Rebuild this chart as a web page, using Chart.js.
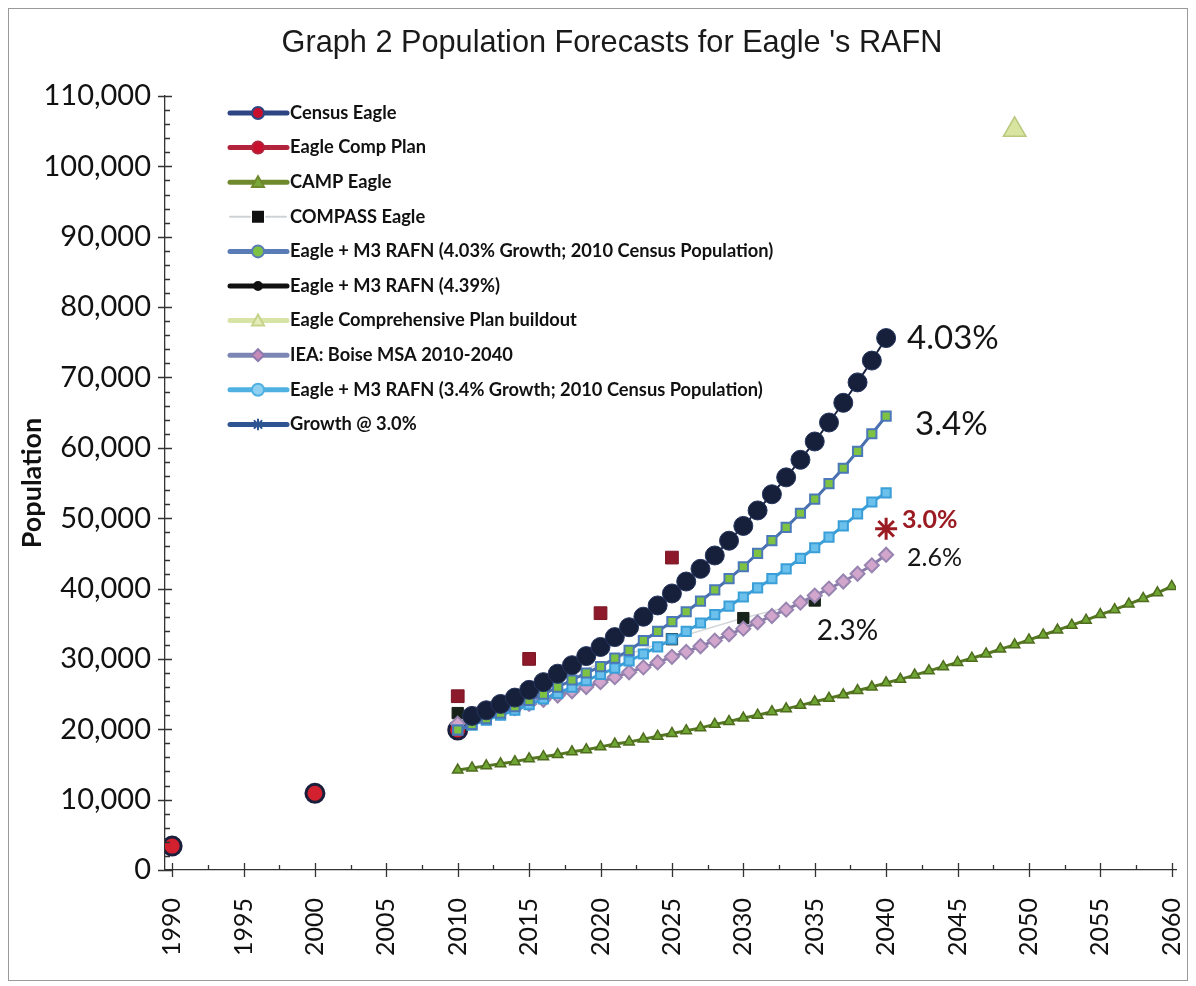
<!DOCTYPE html>
<html>
<head>
<meta charset="utf-8">
<script src="https://cdn.jsdelivr.net/npm/chart.js@4.4.0/dist/chart.umd.min.js"></script>
<style>
  html, body { margin: 0; padding: 0; background: #fff; }
  #wrap { width: 1196px; height: 986px; position: relative; }
</style>
</head>
<body>
<div id="wrap"><canvas id="chart"></canvas></div>
<script>
// values
const censusYears = [1990, 2000, 2010];
const censusEagle = [3400, 10900, 19900];

const compPlanYears = [2010, 2015, 2020, 2025];
const compPlan = [24700, 30000, 36500, 44400];

const compassYears = [2010, 2025, 2030, 2035];
const compassEagle = [22300, 32800, 35800, 38300];

const projYears = [2010, 2011, 2012, 2013, 2014, 2015, 2016, 2017, 2018, 2019, 2020,
  2021, 2022, 2023, 2024, 2025, 2026, 2027, 2028, 2029, 2030,
  2031, 2032, 2033, 2034, 2035, 2036, 2037, 2038, 2039, 2040];
const rafn439 = [null, 21900, 22700, 23600, 24500, 25600, 26700, 27900, 29100, 30400, 31700,
  33100, 34500, 36000, 37600, 39300, 41000, 42800, 44700, 46800, 48900,
  51100, 53400, 55800, 58300, 60900, 63600, 66400, 69300, 72400, 75600];
const rafn403 = [19900, 20700, 21500, 22300, 23200, 24100, 25000, 26000, 27000, 28000, 28900,
  30100, 31200, 32600, 33900, 35300, 36700, 38200, 39800, 41400, 43100,
  45000, 46800, 48700, 50700, 52700, 54900, 57100, 59500, 62000, 64500];
const rafn34 = [19900, 20600, 21300, 22000, 22700, 23500, 24300, 25100, 26000, 26900, 27800,
  28700, 29700, 30700, 31700, 32800, 33900, 35100, 36300, 37500, 38800,
  40100, 41400, 42800, 44300, 45800, 47300, 48900, 50600, 52300, 53600];
const ieaBoise = [20800, 21300, 21800, 22400, 23000, 23600, 24200, 24800, 25400, 26000, 26700,
  27400, 28100, 28800, 29500, 30300, 31000, 31800, 32600, 33500, 34300,
  35200, 36100, 37000, 38000, 39000, 40000, 41000, 42100, 43300, 44800];

const campYears = [2010, 2011, 2012, 2013, 2014, 2015, 2016, 2017, 2018, 2019, 2020,
  2021, 2022, 2023, 2024, 2025, 2026, 2027, 2028, 2029, 2030,
  2031, 2032, 2033, 2034, 2035, 2036, 2037, 2038, 2039, 2040,
  2041, 2042, 2043, 2044, 2045, 2046, 2047, 2048, 2049, 2050,
  2051, 2052, 2053, 2054, 2055, 2056, 2057, 2058, 2059, 2060];
const campEagle = [14200, 14500, 14800, 15100, 15400, 15800, 16100, 16400, 16800, 17100, 17500,
  17900, 18200, 18600, 19000, 19400, 19800, 20200, 20700, 21100, 21600,
  22000, 22500, 22900, 23400, 23900, 24400, 24900, 25500, 26000, 26600,
  27100, 27700, 28300, 28900, 29500, 30100, 30700, 31400, 32000, 32700,
  33400, 34100, 34800, 35500, 36300, 37000, 37800, 38600, 39400, 40300];

const buildoutYears = [2049];
const buildout = [105200];

const growth3Years = [2040];
const growth3 = [48500];

const xTickYears = [1990, 1995, 2000, 2005, 2010, 2015, 2020, 2025, 2030, 2035, 2040, 2045, 2050, 2055, 2060];

const pts = (xs, ys) => xs.map((x, i) => ({ x: x, y: ys[i] }));

const FONT = 'Lato, "Open Sans", sans-serif';
const TITLE = "Graph 2 Population Forecasts for Eagle 's RAFN";

// legend entries (drawn by hand, the original legend sits inside the plot)
const legendItems = [
  { text: 'Census Eagle', line: '#2e4584', lw: 5, shape: 'circle', fill: '#c8102e', stroke: '#2e4584', r: 6 },
  { text: 'Eagle Comp Plan', line: '#b1243c', lw: 5, shape: 'circle', fill: '#c8102e', stroke: '#b1243c', r: 6 },
  { text: 'CAMP Eagle', line: '#6e8a2c', lw: 5, shape: 'triangle', fill: '#79a83a', stroke: '#6e8a2c', r: 6 },
  { text: 'COMPASS Eagle', line: '#cfd3d6', lw: 2, shape: 'rect', fill: '#111', stroke: '#111', r: 5, dash: true },
  { text: 'Eagle + M3 RAFN (4.03% Growth; 2010 Census Population)', line: '#5a7cb6', lw: 5, shape: 'circle', fill: '#7dc242', stroke: '#5a7cb6', r: 6 },
  { text: 'Eagle + M3 RAFN (4.39%)', line: '#111', lw: 5, shape: 'circle', fill: '#111', stroke: '#111', r: 4 },
  { text: 'Eagle Comprehensive Plan buildout', line: '#d8e3a6', lw: 5, shape: 'triangle', fill: '#e3ebb8', stroke: '#c5d48a', r: 6 },
  { text: 'IEA: Boise MSA 2010-2040', line: '#7c86b4', lw: 5, shape: 'rectRot', fill: '#c88ab8', stroke: '#8a7aae', r: 6 },
  { text: 'Eagle + M3 RAFN (3.4% Growth; 2010 Census Population)', line: '#4fb0e2', lw: 5, shape: 'circle', fill: '#8fd0f0', stroke: '#4fb0e2', r: 6 },
  { text: 'Growth @ 3.0%', line: '#2e5591', lw: 5, shape: 'star', fill: '#2e5591', stroke: '#2e5591', r: 5 }
];

// percentage notes next to the line ends
const pctLabels = [
  { text: '4.03%', x: 2040, y: 75600, dx: 21, dy: 0, font: '33px ' + FONT, color: '#151515' },
  { text: '3.4%', x: 2040, y: 64500, dx: 29, dy: 8, font: '33px ' + FONT, color: '#151515' },
  { text: '3.0%', x: 2040, y: 48500, dx: 16, dy: -9, font: 'bold 25px ' + FONT, color: '#9b1b22' },
  { text: '2.6%', x: 2040, y: 44800, dx: 21, dy: 3, font: '25px ' + FONT, color: '#151515' },
  { text: '2.3%', x: 2035, y: 38300, dx: 2, dy: 30, font: '28px ' + FONT, color: '#151515' }
];

function drawMarker(ctx, shape, x, y, r) {
  ctx.beginPath();
  if (shape === 'circle') {
    ctx.arc(x, y, r, 0, Math.PI * 2);
  } else if (shape === 'rect') {
    ctx.rect(x - r, y - r, 2 * r, 2 * r);
  } else if (shape === 'triangle') {
    ctx.moveTo(x, y - r);
    ctx.lineTo(x + r, y + r * 0.8);
    ctx.lineTo(x - r, y + r * 0.8);
    ctx.closePath();
  } else if (shape === 'rectRot') {
    ctx.moveTo(x, y - r);
    ctx.lineTo(x + r, y);
    ctx.lineTo(x, y + r);
    ctx.lineTo(x - r, y);
    ctx.closePath();
  } else if (shape === 'star') {
    for (let a = 0; a < 4; a++) {
      const t = a * Math.PI / 4;
      ctx.moveTo(x - r * Math.cos(t), y - r * Math.sin(t));
      ctx.lineTo(x + r * Math.cos(t), y + r * Math.sin(t));
    }
    return 'lines';
  }
}

// white page, thin scan frame and the title (placed a bit right of centre like the original)
const framePlugin = {
  id: 'frame',
  beforeDraw(chart) {
    const ctx = chart.ctx;
    ctx.save();
    ctx.fillStyle = '#fff';
    ctx.fillRect(0, 0, chart.width, chart.height);
    ctx.strokeStyle = '#9a9a9a';
    ctx.lineWidth = 1;
    ctx.strokeRect(8.5, 8.5, chart.width - 17, chart.height - 14);
    ctx.fillStyle = '#1a1a1a';
    ctx.font = '30.7px "Liberation Sans", Arial, sans-serif';
    ctx.textAlign = 'center';
    ctx.textBaseline = 'middle';
    ctx.fillText(TITLE, 612, 44);
    ctx.restore();
  }
};

const tickPlugin = {
  id: 'tickMarks',
  afterDraw(chart) {
    const { ctx, chartArea, scales } = chart;
    const x = scales.x, y = scales.y;
    ctx.save();
    ctx.strokeStyle = '#333';
    ctx.lineWidth = 1.3;
    ctx.beginPath();
    y.ticks.forEach(t => {
      const py = Math.round(y.getPixelForValue(t.value)) + 0.5;
      ctx.moveTo(chartArea.left - 7, py);
      ctx.lineTo(chartArea.left + 7, py);
    });
    for (let v = 2000; v < 110000; v += 2000) {
      if (v % 10000 === 0) continue;
      const py = Math.round(y.getPixelForValue(v)) + 0.5;
      ctx.moveTo(chartArea.left, py);
      ctx.lineTo(chartArea.left + 5, py);
    }
    x.ticks.forEach(t => {
      const px = Math.round(x.getPixelForValue(t.value)) + 0.5;
      ctx.moveTo(px, chartArea.bottom - 7);
      ctx.lineTo(px, chartArea.bottom + 7);
      if (t.value + 2.5 < 2060) {
        const mx = Math.round(x.getPixelForValue(t.value + 2.5)) + 0.5;
        ctx.moveTo(mx, chartArea.bottom);
        ctx.lineTo(mx, chartArea.bottom - 5);
      }
    });
    ctx.stroke();
    ctx.restore();
  }
};

const legendPlugin = {
  id: 'inLegend',
  afterDraw(chart) {
    const ctx = chart.ctx;
    ctx.save();
    legendItems.forEach((it, i) => {
      const cy = 113 + i * 34.6;
      ctx.strokeStyle = it.line;
      ctx.lineWidth = it.lw;
      ctx.lineCap = 'round';
      ctx.beginPath();
      if (it.dash) {
        ctx.moveTo(230, cy); ctx.lineTo(250, cy);
        ctx.moveTo(266, cy); ctx.lineTo(286, cy);
      } else {
        ctx.moveTo(230, cy); ctx.lineTo(287, cy);
      }
      ctx.stroke();
      ctx.fillStyle = it.fill;
      ctx.strokeStyle = it.stroke;
      ctx.lineWidth = 2;
      const kind = drawMarker(ctx, it.shape, 258, cy, it.r);
      if (kind !== 'lines') ctx.fill();
      ctx.stroke();
      ctx.fillStyle = '#111';
      ctx.font = 'bold 18.3px ' + FONT;
      ctx.textBaseline = 'middle';
      ctx.textAlign = 'left';
      ctx.fillText(it.text, 290, cy);
    });
    ctx.restore();
  }
};

const pctPlugin = {
  id: 'pctLabels',
  afterDatasetsDraw(chart) {
    const { ctx, scales } = chart;
    ctx.save();
    ctx.textBaseline = 'middle';
    ctx.textAlign = 'left';
    pctLabels.forEach(l => {
      ctx.font = l.font;
      ctx.fillStyle = l.color;
      ctx.fillText(l.text, scales.x.getPixelForValue(l.x) + l.dx, scales.y.getPixelForValue(l.y) + l.dy);
    });
    ctx.restore();
  }
};

const datasets = [
  { label: 'Eagle Comp Plan', data: pts(compPlanYears, compPlan), showLine: false,
    pointStyle: 'rect', pointRadius: 9, backgroundColor: '#8c1a2b', borderColor: '#7a1624', pointBorderWidth: 1 },
  { label: 'Growth @ 3.0%', data: pts(growth3Years, growth3), showLine: false,
    pointStyle: 'star', pointRadius: 11, borderColor: '#9b1b22', backgroundColor: '#9b1b22', pointBorderWidth: 3 },
  { label: 'Eagle + M3 RAFN (4.39%)', data: pts(projYears, rafn439), showLine: true,
    borderColor: '#1a2440', borderWidth: 2, pointStyle: 'circle', pointRadius: 9.5,
    backgroundColor: '#16203a', pointBorderColor: '#24345e', pointBorderWidth: 1 },
  { label: 'Eagle + M3 RAFN (4.03% Growth; 2010 Census Population)', data: pts(projYears, rafn403), showLine: true,
    borderColor: '#4a6fae', borderWidth: 3, pointStyle: 'rect', pointRadius: 6.5,
    backgroundColor: '#7dc242', pointBorderColor: '#4a78b8', pointBorderWidth: 2 },
  { label: 'Eagle + M3 RAFN (3.4% Growth; 2010 Census Population)', data: pts(projYears, rafn34), showLine: true,
    borderColor: '#3a9fd8', borderWidth: 3, pointStyle: 'rect', pointRadius: 6.5,
    backgroundColor: '#6cc0ec', pointBorderColor: '#3a9fd8', pointBorderWidth: 2 },
  { label: 'IEA: Boise MSA 2010-2040', data: pts(projYears, ieaBoise), showLine: true,
    borderColor: '#8a7aa8', borderWidth: 3, pointStyle: 'rectRot', pointRadius: 7,
    backgroundColor: '#d2a6cc', pointBorderColor: '#9784b0', pointBorderWidth: 2 },
  { label: 'COMPASS Eagle', data: pts(compassYears, compassEagle), showLine: true,
    borderColor: '#d4d7da', borderWidth: 1.5, pointStyle: 'rect', pointRadius: 8,
    backgroundColor: '#17221a', pointBorderColor: '#17221a', pointBorderWidth: 1 },
  { label: 'Census Eagle', data: pts(censusYears, censusEagle), showLine: false,
    pointStyle: 'circle', pointRadius: 9, backgroundColor: '#d2202f', borderColor: '#1b1f3c', pointBorderWidth: 3 },
  { label: 'CAMP Eagle', data: pts(campYears, campEagle), showLine: true,
    borderColor: '#557722', borderWidth: 3, pointStyle: 'triangle', pointRadius: 6,
    backgroundColor: '#6fa533', pointBorderColor: '#4e6b1e', pointBorderWidth: 1.5 },
  { label: 'Eagle Comprehensive Plan buildout', data: pts(buildoutYears, buildout), showLine: false,
    pointStyle: 'triangle', pointRadius: 13, backgroundColor: '#d8e4a0', borderColor: '#b9c97e', pointBorderWidth: 1.5 }
];

new Chart(document.getElementById('chart'), {
  type: 'scatter',
  data: { datasets: datasets },
  options: {
    responsive: true,
    maintainAspectRatio: false,
    animation: false,
    layout: { padding: { left: 10, right: 20, top: 96, bottom: 10 } },
    plugins: {
      legend: { display: false },
      tooltip: { enabled: false },
      title: { display: false }
    },
    scales: {
      x: {
        type: 'linear',
        min: 1989.5,
        max: 2060.3,
        grid: { display: false },
        border: { display: true, color: '#333', width: 1.3 },
        afterBuildTicks: s => { s.ticks = xTickYears.map(v => ({ value: v })); },
        afterFit: s => { s.height = 106; s.paddingLeft = 0; s.paddingRight = 0; },
        ticks: {
          autoSkip: false,
          minRotation: 90,
          maxRotation: 90,
          padding: 20,
          color: '#111',
          font: { family: FONT, size: 25 },
          callback: v => String(v)
        }
      },
      y: {
        min: 0,
        max: 110000,
        grid: { display: false },
        border: { display: true, color: '#333', width: 1.3 },
        afterFit: s => { s.width = 155; s.paddingTop = 0; s.paddingBottom = 0; },
        ticks: {
          stepSize: 10000,
          padding: 6,
          color: '#111',
          font: { family: FONT, size: 29 },
          callback: v => v.toLocaleString('en-US')
        },
        title: {
          display: true,
          text: 'Population',
          color: '#111',
          font: { family: FONT, size: 27, weight: 'bold' },
          padding: { top: 6, bottom: 0 }
        }
      }
    }
  },
  plugins: [framePlugin, tickPlugin, legendPlugin, pctPlugin]
});
</script>
</body>
</html>
